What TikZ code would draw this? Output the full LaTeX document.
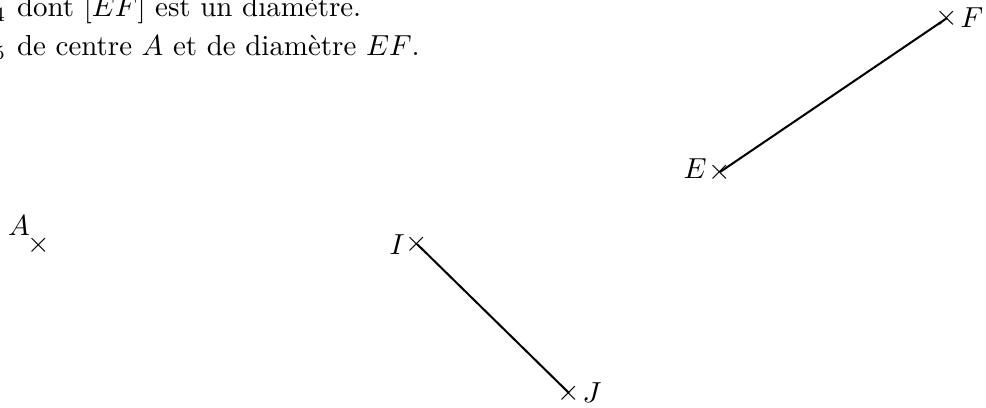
\documentclass[tikz,border=0pt]{standalone}
\begin{document}
\begin{tikzpicture}[x=0.3455pt,y=-0.3455pt,
  pt/.style={inner sep=0pt,outer sep=0pt},
  lbl/.style={inner sep=0pt},
  seg/.style={line width=0.7pt}]
\clip (0,0) rectangle (986,407);
\useasboundingbox (0,0) rectangle (986,407);
% text
\node[anchor=base west,inner sep=0pt] (t1) at (16.5,16.7) {dont $[EF]$ est un diamètre.};
\node[anchor=base east,inner sep=0pt] (c4) at ([xshift=-3.33pt]t1.base west) {$\mathcal{C}_4$};
\node[anchor=base west,inner sep=0pt] (t2) at (16.5,55) {de centre $A$ et de diamètre $EF$.};
\node[anchor=base east,inner sep=0pt] (c5) at ([xshift=-3.33pt]t2.base west) {$\mathcal{C}_5$};
% points
\coordinate (A) at (39,245);
\coordinate (I) at (417,244);
\coordinate (J) at (569,393);
\coordinate (E) at (720,172);
\coordinate (F) at (947,18);
\draw[seg] (I) -- (J);
\draw[seg] (E) -- (F);
\foreach \p in {A,I,J,E,F} \node[pt] (x\p) at (\p) {$\times$};
\node[lbl] (lA) at (19,226) {$A$};
\node[lbl] (lI) at (397,245) {$I$};
\node[lbl] (lJ) at (592,393) {$J$};
\node[lbl] (lE) at (695,169) {$E$};
\node[lbl] (lF) at (972,18) {$F$};
\end{tikzpicture}
\end{document}
